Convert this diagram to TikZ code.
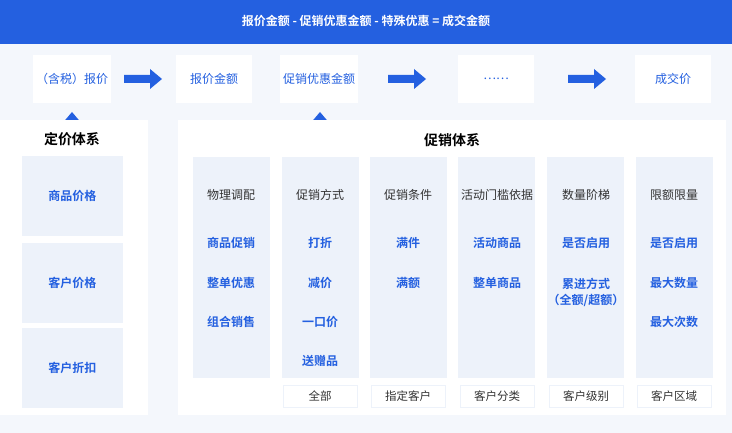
\documentclass[tikz,border=0pt]{standalone}
\usepackage{fontspec}
\newfontfamily\cjk{Noto Sans CJK SC}
\newfontfamily\cjkb{Noto Sans CJK SC Bold}
\begin{document}
\begin{tikzpicture}[x=1pt,y=-1pt,
 flow/.style={fill=white,draw=none,minimum width=76pt,minimum height=48pt,font=\cjk\fontsize{12}{14}\selectfont,text=blu},
 item/.style={font=\cjkb\fontsize{12}{16}\selectfont,text=blu,align=center},
 head/.style={font=\cjk\fontsize{12}{14}\selectfont,text=black!80},
 foot/.style={fill=white,draw=card,minimum width=74pt,minimum height=22pt,font=\cjk\fontsize{11.5}{13}\selectfont,text=black!80},
 arr/.style={fill=blu,draw=none}]
\definecolor{blu}{HTML}{2460E0}
\definecolor{bg}{HTML}{F4F7FC}
\definecolor{card}{HTML}{EDF2FA}
\fill[bg] (0,0) rectangle (732,433);
\fill[blu] (0,0) rectangle (732,44);
\node[font=\cjkb\fontsize{12}{14}\selectfont,text=white] (title) at (366,21) {报价金额 - 促销优惠金额 - 特殊优惠 = 成交金额};
\node[flow] (f1) at (72,79) {（含税）报价};
\node[flow] (f2) at (214,79) {报价金额};
\node[flow] (f3) at (319,79) {促销优惠金额};
\node[flow] (f4) at (496,79) {……};
\node[flow] (f5) at (673,79) {成交价};
\foreach \a in {124,388,568}{
 \fill[arr] (\a,75) -- (\a+26,75) -- (\a+26,69) -- (\a+38,79) -- (\a+26,89) -- (\a+26,83) -- (\a,83) -- cycle;}
\fill[arr] (61,125) -- (72,112) -- (83,125) -- cycle;
\fill[arr] (309,125) -- (320,112) -- (331,125) -- cycle;
\fill[white] (0,120) rectangle (148,415);
\fill[white] (178,120) rectangle (726,415);
\node[font=\cjkb\fontsize{14}{16}\selectfont] (t1) at (72,139) {定价体系};
\node[font=\cjkb\fontsize{14}{16}\selectfont] (t2) at (452,140) {促销体系};
\foreach \y/\t in {156/商品价格,243/客户价格,328/客户折扣}{
 \fill[card] (22,\y) rectangle (123,\y+80);
 \node[item] at (72.5,\y+40) {\t};}
\foreach \x in {193,282,370,458,547,636}{\fill[card] (\x,157) rectangle (\x+77,378);}
\node[head] at (231,195) {物理调配};
\node[item] at (231,243) {商品促销};
\node[item] at (231,283) {整单优惠};
\node[item] at (231,322) {组合销售};
\node[head] at (320,195) {促销方式};
\node[item] at (320,243) {打折};
\node[item] at (320,283) {减价};
\node[item] at (320,322) {一口价};
\node[item] at (320,361) {送赠品};
\node[head] at (408,195) {促销条件};
\node[item] at (408,243) {满件};
\node[item] at (408,283) {满额};
\node[head] at (497,195) {活动门槛依据};
\node[item] at (497,243) {活动商品};
\node[item] at (497,283) {整单商品};
\node[head] at (586,195) {数量阶梯};
\node[item] at (586,243) {是否启用};
\node[item] at (586,292) {累进方式\\（全额/超额）};
\node[head] at (674,195) {限额限量};
\node[item] at (674,243) {是否启用};
\node[item] at (674,283) {最大数量};
\node[item] at (674,322) {最大次数};
\node[foot] at (320,396) {全部};
\node[foot] at (408,396) {指定客户};
\node[foot] at (497,396) {客户分类};
\node[foot] at (586,396) {客户级别};
\node[foot] at (674,396) {客户区域};
\end{tikzpicture}
\end{document}
